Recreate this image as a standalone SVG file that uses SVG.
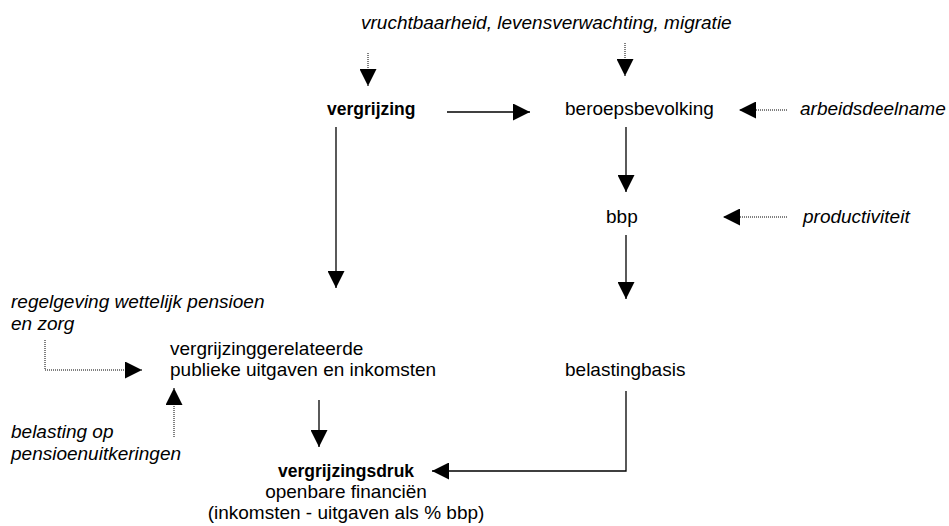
<svg xmlns="http://www.w3.org/2000/svg" width="949" height="526" viewBox="0 0 949 526">
<style>
text{font-family:"Liberation Sans",Arial,sans-serif;font-size:19px;fill:#000}
.i{font-style:italic}
.b{font-weight:bold;font-size:17.5px}
.s{fill:none;stroke:#000;stroke-width:1.3}
.d{fill:none;stroke:#000;stroke-width:1;stroke-dasharray:1 1}
</style>
<defs>
<marker id="ah" markerUnits="userSpaceOnUse" markerWidth="17" markerHeight="17" refX="17" refY="8.5" orient="auto" viewBox="0 0 17 17">
<path d="M0,0 L17,8.5 L0,17 z" fill="#000"/>
</marker>
</defs>
<rect width="949" height="526" fill="#fff"/>
<g id="connectors">
<line class="d" x1="368" y1="53" x2="368" y2="86" marker-end="url(#ah)"/>
<line class="d" x1="625" y1="43" x2="625" y2="76" marker-end="url(#ah)"/>
<line class="s" x1="447" y1="112" x2="530" y2="112" marker-end="url(#ah)"/>
<line class="d" x1="787" y1="110" x2="739" y2="110" marker-end="url(#ah)"/>
<line class="s" x1="626" y1="127" x2="626" y2="192" marker-end="url(#ah)"/>
<line class="d" x1="787" y1="217" x2="723" y2="217" marker-end="url(#ah)"/>
<line class="s" x1="626" y1="235" x2="626" y2="299" marker-end="url(#ah)"/>
<line class="s" x1="336" y1="127" x2="336" y2="288" marker-end="url(#ah)"/>
<polyline class="d" points="45,340 45,370 142,370" marker-end="url(#ah)"/>
<line class="d" x1="174" y1="437" x2="174" y2="388" marker-end="url(#ah)"/>
<line class="s" x1="319" y1="400" x2="319" y2="447" marker-end="url(#ah)"/>
<polyline class="s" points="626,391 626,471 432,471" marker-end="url(#ah)"/>
</g>
<g id="demografie"><text class="i" x="361" y="29">vruchtbaarheid, levensverwachting, migratie</text></g>
<g id="vergrijzing"><text class="b" x="327" y="115">vergrijzing</text></g>
<g id="beroepsbevolking"><text x="565" y="115">beroepsbevolking</text></g>
<g id="arbeidsdeelname"><text class="i" x="800" y="115">arbeidsdeelname</text></g>
<g id="bbp"><text x="606" y="223">bbp</text></g>
<g id="productiviteit"><text class="i" x="803" y="223">productiviteit</text></g>
<g id="regelgeving"><text class="i" x="11" y="308">regelgeving wettelijk pensioen</text><text class="i" x="11" y="330">en zorg</text></g>
<g id="uitgaven"><text x="170" y="355">vergrijzinggerelateerde</text><text x="170" y="376">publieke uitgaven en inkomsten</text></g>
<g id="belastingbasis"><text x="565" y="376">belastingbasis</text></g>
<g id="belasting"><text class="i" x="11" y="438">belasting op</text><text class="i" x="11" y="460">pensioenuitkeringen</text></g>
<g id="vergrijzingsdruk"><text class="b" x="346" y="477" text-anchor="middle">vergrijzingsdruk</text><text x="346" y="498" text-anchor="middle">openbare financiën</text><text x="346" y="519" text-anchor="middle">(inkomsten - uitgaven als % bbp)</text></g>
</svg>
